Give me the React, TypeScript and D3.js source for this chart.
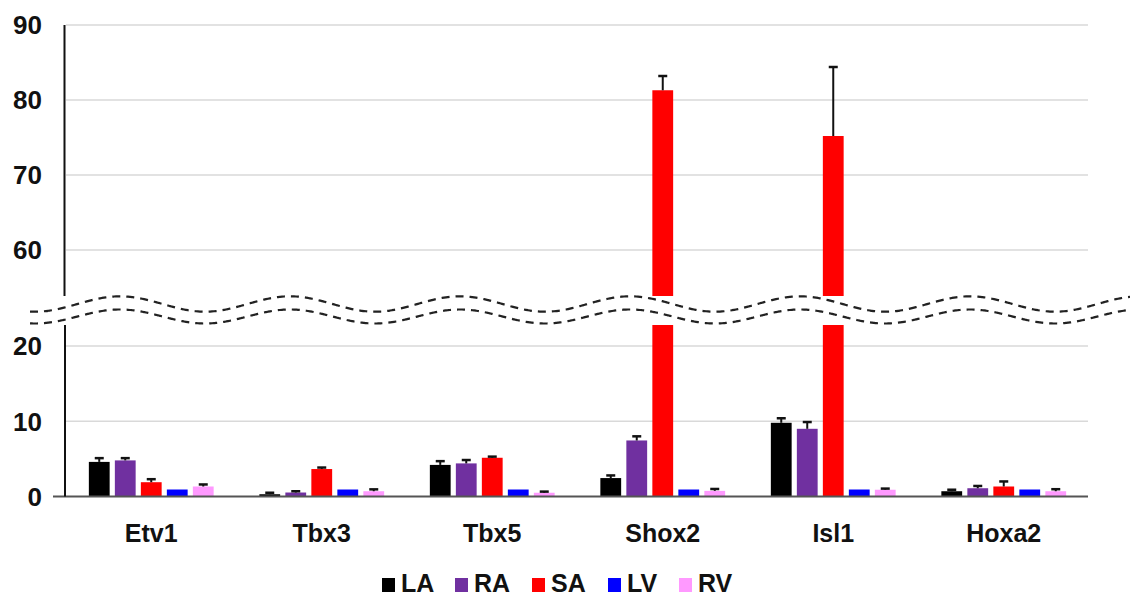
import React, { useEffect, useRef } from 'react';
import * as d3 from 'd3';

const genes = ['Etv1', 'Tbx3', 'Tbx5', 'Shox2', 'Isl1', 'Hoxa2'];
const chambers = ['LA', 'RA', 'SA', 'LV', 'RV'];
const colors = ['#000000', '#7030A0', '#FF0000', '#0000FF', '#FF99FF'];

// mean per chamber, one value per gene
const LA = [4.6, 0.3, 4.2, 2.45, 9.8, 0.7];
const RA = [4.8, 0.53, 4.4, 7.45, 9.0, 1.1];
const SA = [1.9, 3.65, 5.15, 81.3, 75.2, 1.33];
const LV = [0.93, 0.93, 0.93, 0.93, 0.93, 0.93];
const RV = [1.33, 0.7, 0.5, 0.75, 0.9, 0.7];
// error (upper) per chamber
const LAerr = [0.5, 0.2, 0.5, 0.35, 0.6, 0.2];
const RAerr = [0.3, 0.17, 0.45, 0.55, 0.9, 0.3];
const SAerr = [0.4, 0.2, 0.15, 1.9, 9.2, 0.67];
const LVerr = [0, 0, 0, 0, 0, 0];
const RVerr = [0.27, 0.25, 0.15, 0.25, 0.15, 0.27];

const lowTicks = [0, 10, 20];
const highTicks = [60, 70, 80, 90];

export default function App() {
  const svgRef = useRef(null);

  useEffect(() => {
    const w = 1130;
    const h = 599;
    const svg = d3.select(svgRef.current);
    svg.selectAll('*').remove();
    svg.attr('width', w).attr('height', h).style('background', '#fff');

    const font = "'Liberation Sans', Arial, sans-serif";
    const values = [LA, RA, SA, LV, RV];
    const errs = [LAerr, RAerr, SAerr, LVerr, RVerr];

    //scales, broken axis: two panels
    const x0 = 66;
    const x1 = 1089;
    const xScale = d3.scaleBand().domain(genes).range([x0, x1]);
    const groupW = 130;
    const xInner = d3
      .scaleBand()
      .domain(chambers)
      .range([0, groupW])
      .paddingInner(0.2)
      .paddingOuter(0.1);
    const yLow = d3.scaleLinear().domain([0, 22.8]).range([496.5, 325]);
    const yHigh = d3.scaleLinear().domain([53.87, 90]).range([296, 25]);

    //gridlines
    const grid = svg.append('g');
    [...lowTicks.slice(1).map((t) => yLow(t)), ...highTicks.map((t) => yHigh(t))].forEach((y) => {
      grid
        .append('line')
        .attr('x1', x0)
        .attr('x2', x1 - 1)
        .attr('y1', y)
        .attr('y2', y)
        .attr('stroke', '#d9d9d9')
        .attr('stroke-width', 1.5);
    });

    //bars
    const bars = svg.append('g');
    genes.forEach((g, gi) => {
      const gx = xScale(g) + (xScale.bandwidth() - groupW) / 2;
      chambers.forEach((c, ci) => {
        const v = values[ci][gi];
        const e = errs[ci][gi];
        const bx = gx + xInner(c);
        const bw = xInner.bandwidth();
        const cx = bx + bw / 2;
        const lowTop = Math.max(yLow(v), yLow(22.8));
        bars
          .append('rect')
          .attr('x', bx)
          .attr('width', bw)
          .attr('y', lowTop)
          .attr('height', yLow(0) - lowTop)
          .attr('fill', colors[ci]);
        let yv = yLow(v);
        let ye = yLow(v + e);
        if (v > 53.87) {
          bars
            .append('rect')
            .attr('x', bx)
            .attr('width', bw)
            .attr('y', yHigh(v))
            .attr('height', yHigh(53.87) - yHigh(v))
            .attr('fill', colors[ci]);
          yv = yHigh(v);
          ye = yHigh(v + e);
        }
        if (e > 0) {
          bars
            .append('line')
            .attr('x1', cx)
            .attr('x2', cx)
            .attr('y1', yv)
            .attr('y2', ye)
            .attr('stroke', '#111')
            .attr('stroke-width', 2);
          bars
            .append('line')
            .attr('x1', cx - 4.5)
            .attr('x2', cx + 4.5)
            .attr('y1', ye)
            .attr('y2', ye)
            .attr('stroke', '#111')
            .attr('stroke-width', 2.5);
        }
      });
    });

    //baseline and y axis
    svg
      .append('line')
      .attr('x1', 53)
      .attr('x2', x1 - 1)
      .attr('y1', yLow(0))
      .attr('y2', yLow(0))
      .attr('stroke', '#555')
      .attr('stroke-width', 2);
    svg
      .append('line')
      .attr('x1', 65)
      .attr('x2', 65)
      .attr('y1', yLow(0))
      .attr('y2', yLow(22.8))
      .attr('stroke', '#111')
      .attr('stroke-width', 2);
    svg
      .append('line')
      .attr('x1', 64.5)
      .attr('x2', 64.5)
      .attr('y1', yHigh(53.87))
      .attr('y2', yHigh(90))
      .attr('stroke', '#111')
      .attr('stroke-width', 2);

    //y labels
    const ylab = svg
      .append('g')
      .attr('font-family', font)
      .attr('font-weight', 'bold')
      .attr('font-size', 26)
      .attr('fill', '#111')
      .attr('text-anchor', 'end');
    lowTicks.forEach((t) => {
      ylab.append('text').attr('x', 42).attr('y', yLow(t)).attr('dy', '0.36em').text(t);
    });
    highTicks.forEach((t) => {
      ylab.append('text').attr('x', 42).attr('y', yHigh(t)).attr('dy', '0.36em').text(t);
    });

    //x labels
    svg
      .append('g')
      .attr('font-family', font)
      .attr('font-weight', 'bold')
      .attr('font-size', 25)
      .attr('fill', '#111')
      .attr('text-anchor', 'middle')
      .selectAll('text')
      .data(genes)
      .join('text')
      .attr('x', (d) => xScale(d) + xScale.bandwidth() / 2)
      .attr('y', 542)
      .text((d) => d);

    //break marks: two dashed wavy lines
    const wave = (center, amp) =>
      d3.range(30, w + 2, 2).map((x) => [x, center - amp * Math.cos((2 * Math.PI * (x - 120)) / 170)]);
    const line = d3.line().curve(d3.curveBasis);
    [
      [304, 7.7],
      [316.5, 7]
    ].forEach(([c, a]) => {
      svg
        .append('path')
        .attr('d', line(wave(c, a)))
        .attr('fill', 'none')
        .attr('stroke', '#222')
        .attr('stroke-width', 2.2)
        .attr('stroke-dasharray', '8 6');
    });

    //legend
    const legendX = [382, 455, 532, 608, 679];
    const leg = svg.append('g').attr('font-family', font).attr('font-weight', 'bold').attr('font-size', 25);
    chambers.forEach((c, i) => {
      leg
        .append('rect')
        .attr('x', legendX[i])
        .attr('y', 578)
        .attr('width', 13)
        .attr('height', 14)
        .attr('fill', colors[i]);
      leg
        .append('text')
        .attr('x', legendX[i] + 19)
        .attr('y', 592)
        .attr('fill', '#111')
        .text(c);
    });
  }, []);

  return <svg ref={svgRef} style={{ position: 'absolute', left: 0, top: 0 }}></svg>;
}
